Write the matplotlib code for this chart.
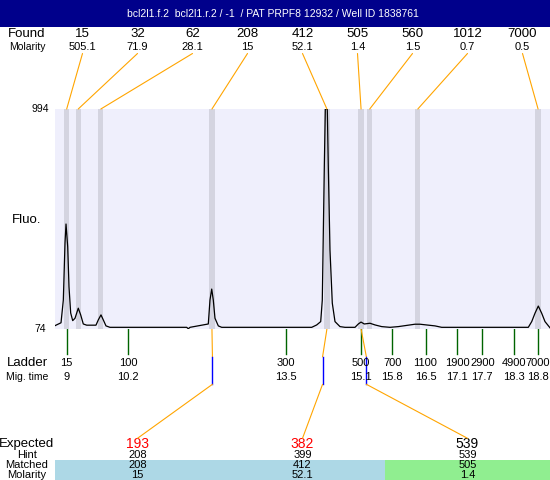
import matplotlib
matplotlib.use('Agg')
import matplotlib.pyplot as plt
from matplotlib.patches import ConnectionPatch, Rectangle
from matplotlib.transforms import blended_transform_factory
from matplotlib.lines import Line2D

plt.rcParams['font.family'] = ['Liberation Sans', 'DejaVu Sans']

# ---------------- data ----------------
title = "bcl2l1.f.2  bcl2l1.r.2 / -1  / PAT PRPF8 12932 / Well ID 1838761"

mig_time = [8.757, 8.882, 8.930, 8.965, 8.986, 9.021, 9.048, 9.083, 9.125, 9.173,
            9.241, 9.291, 9.345, 9.416, 9.609, 9.657, 9.713, 9.761, 9.817, 9.900,
            11.495, 11.528, 11.564, 11.944, 11.979, 12.015, 12.048, 12.083, 12.152, 12.223,
            14.094, 14.198, 14.281, 14.314, 14.335, 14.356, 14.377, 14.418, 14.439, 14.474,
            14.522, 14.578, 14.682, 14.786, 14.994, 15.063, 15.119, 15.187, 15.306, 15.410,
            15.549, 15.722, 15.894, 16.241, 16.345, 16.657, 16.796, 18.597, 18.668, 18.736,
            18.805, 18.875, 18.944, 19.048]
fluo = [88, 100, 195, 434, 513, 418, 251, 141, 109, 119,
        161, 133, 95, 90, 90, 112, 133, 112, 87, 81,
        81, 75, 81, 95, 195, 241, 195, 119, 87, 81,
        81, 91, 105, 195, 474, 753, 994, 994, 753, 404,
        182, 105, 84, 81, 81, 95, 103, 95, 98, 91,
        84, 81, 84, 94, 94, 87, 81, 81, 105, 140,
        170, 140, 105, 79]

found_size = [15, 32, 62, 208, 412, 505, 560, 1012, 7000]
found_molarity = ['505.1', '71.9', '28.1', '15', '52.1', '1.4', '1.5', '0.7', '0.5']
found_time = [9.00, 9.24, 9.71, 12.02, 14.41, 15.12, 15.30, 16.30, 18.80]

ladder_size = [15, 100, 300, 500, 700, 1100, 1900, 2900, 4900, 7000]
ladder_time = [9.00, 10.28, 13.55, 15.11, 15.77, 16.46, 17.12, 17.64, 18.30, 18.80]
ladder_time_label = ['9', '10.2', '13.5', '15.1', '15.8', '16.5', '17.1', '17.7', '18.3', '18.8']

expected = [193, 382, 539]
hint = [208, 399, 539]
hint_time = [12.03, 14.32, 15.23]
matched = [208, 412, 505]
matched_time = [12.02, 14.41, 15.12]
matched_molarity = ['15', '52.1', '1.4']
expected_ok = [False, False, True]

y_range = [74, 994]
x_range = [8.757, 19.048]

# ---------------- layout ----------------
W, H = 550, 480
L, T, R, B = 55, 109, 550, 329
ORANGE = '#FFA500'
fig = plt.figure(figsize=(W / 100, H / 100), dpi=100)

ov = fig.add_axes([0, 0, 1, 1])
ov.set_xlim(0, W)
ov.set_ylim(H, 0)
ov.axis('off')

ax = fig.add_axes([L / W, 1 - B / H, (R - L) / W, (B - T) / H])
ax.set_xlim(*x_range)
ax.set_ylim(*y_range)
ax.set_facecolor('#efeffc')
for s in ax.spines.values():
    s.set_visible(False)
ax.set_xticks([])
ax.set_yticks([])

# title bar
ov.add_patch(Rectangle((0, 0), W, 27, color='#00008B', lw=0))
ov.text(273, 14, title, color='white', fontsize=7.5, ha='center', va='center')

# peak bands and trace
for t in found_time:
    ax.axvspan(t - 0.055, t + 0.055, color='#d4d4e0', lw=0)
ax.plot(mig_time, fluo, color='black', lw=0.9)

# y labels
ty = blended_transform_factory(ov.transData, ax.transData)
ov.text(49, y_range[1], str(y_range[1]), transform=ty, ha='right', va='center', fontsize=7.5)
ov.text(46, y_range[0], str(y_range[0]), transform=ty, ha='right', va='center', fontsize=7.5)
ov.text(27, 220, 'Fluo.', ha='center', va='center', fontsize=9.5)

# found header
ov.text(27, 34, 'Found', ha='center', va='center', fontsize=9.5)
ov.text(27, 47, 'Molarity', ha='center', va='center', fontsize=7.5)
colw = (R - L) / len(found_size)
for i, (s, m, t) in enumerate(zip(found_size, found_molarity, found_time)):
    cx = L + colw * (i + 0.5)
    ov.text(cx, 34, str(s), ha='center', va='center', fontsize=9.5)
    ov.text(cx, 47, m, ha='center', va='center', fontsize=8)
    cp = ConnectionPatch((cx, 53.5), (t, y_range[1]), coordsA=ov.transData,
                         coordsB=ax.transData, color=ORANGE, lw=0.8)
    fig.add_artist(cp)

# ladder
tx = blended_transform_factory(ax.transData, ov.transData)
ov.text(27, 362.7, 'Ladder', ha='center', va='center', fontsize=9.5)
ov.text(27, 376.7, 'Mig. time', ha='center', va='center', fontsize=7.5)
for s, t, lab in zip(ladder_size, ladder_time, ladder_time_label):
    ov.add_line(Line2D([t, t], [B, 354], transform=tx, color='#006400', lw=1, clip_on=False))
    ov.text(t, 362.7, str(s), transform=tx, ha='center', va='center', fontsize=8)
    ov.text(t, 376.7, lab, transform=tx, ha='center', va='center', fontsize=8)

# matched connections and table
ncol = len(expected)
tw = (R - L) / ncol
for i in range(ncol):
    cx = L + tw * (i + 0.5)
    ft, ht = matched_time[i], hint_time[i]
    ov.add_line(Line2D([ft, ht], [B, 356.7], transform=tx, color=ORANGE, lw=0.8, clip_on=False))
    ov.add_line(Line2D([ht, ht], [356.7, 384.3], transform=tx, color='blue', lw=1, clip_on=False))
    cp = ConnectionPatch((ht, 384.3), (cx, 438.3), coordsA=tx, coordsB=ov.transData,
                         color=ORANGE, lw=0.8)
    fig.add_artist(cp)
    bg = '#90EE90' if expected_ok[i] else '#ADD8E6'
    ov.add_patch(Rectangle((L + tw * i, 460), tw, 20, color=bg, lw=0))
    ov.text(cx, 444, str(expected[i]), ha='center', va='center', fontsize=10,
            color='black' if expected_ok[i] else 'red')
    ov.text(cx, 455, str(hint[i]), ha='center', va='center', fontsize=8)
    ov.text(cx, 465, str(matched[i]), ha='center', va='center', fontsize=8)
    ov.text(cx, 474.5, matched_molarity[i], ha='center', va='center', fontsize=8)

ov.text(27, 444, 'Expected', ha='center', va='center', fontsize=9.5)
ov.text(27, 455, 'Hint', ha='center', va='center', fontsize=8)
ov.text(27, 465, 'Matched', ha='center', va='center', fontsize=8)
ov.text(27, 474.5, 'Molarity', ha='center', va='center', fontsize=8)

fig.savefig('out.png', dpi=100)
